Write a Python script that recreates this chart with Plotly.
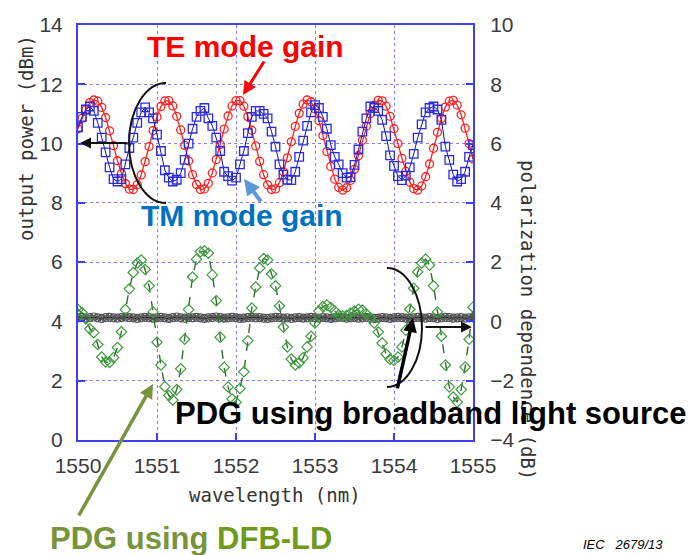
import plotly.graph_objects as go

# ---- measured data -------------------------------------------------------
wavelength_nm = [
    1550.00, 1550.05, 1550.10, 1550.15, 1550.20, 1550.25, 1550.30, 1550.35, 1550.40, 1550.45,
    1550.50, 1550.55, 1550.60, 1550.65, 1550.70, 1550.75, 1550.80, 1550.85, 1550.90, 1550.95,
    1551.00, 1551.05, 1551.10, 1551.15, 1551.20, 1551.25, 1551.30, 1551.35, 1551.40, 1551.45,
    1551.50, 1551.55, 1551.60, 1551.65, 1551.70, 1551.75, 1551.80, 1551.85, 1551.90, 1551.95,
    1552.00, 1552.05, 1552.10, 1552.15, 1552.20, 1552.25, 1552.30, 1552.35, 1552.40, 1552.45,
    1552.50, 1552.55, 1552.60, 1552.65, 1552.70, 1552.75, 1552.80, 1552.85, 1552.90, 1552.95,
    1553.00, 1553.05, 1553.10, 1553.15, 1553.20, 1553.25, 1553.30, 1553.35, 1553.40, 1553.45,
    1553.50, 1553.55, 1553.60, 1553.65, 1553.70, 1553.75, 1553.80, 1553.85, 1553.90, 1553.95,
    1554.00, 1554.05, 1554.10, 1554.15, 1554.20, 1554.25, 1554.30, 1554.35, 1554.40, 1554.45,
    1554.50, 1554.55, 1554.60, 1554.65, 1554.70, 1554.75, 1554.80, 1554.85, 1554.90, 1554.95,
    1555.00,
]

# TE mode output power (dBm, left axis)
te_gain_dbm = [
    10.50, 10.85, 11.15, 11.38, 11.47, 11.43, 11.22, 10.88, 10.43, 9.93,
    9.42, 8.99, 8.65, 8.46, 8.45, 8.61, 8.94, 9.39, 9.90, 10.44,
    10.90, 11.25, 11.44, 11.45, 11.27, 10.92, 10.46, 9.94, 9.41, 8.95,
    8.62, 8.45, 8.47, 8.66, 9.01, 9.46, 9.97, 10.49, 10.93, 11.27,
    11.45, 11.45, 11.26, 10.91, 10.45, 9.92, 9.40, 8.95, 8.61, 8.45,
    8.47, 8.68, 9.05, 9.52, 10.06, 10.58, 11.02, 11.33, 11.47, 11.41,
    11.17, 10.77, 10.27, 9.73, 9.23, 8.80, 8.52, 8.43, 8.51, 8.76,
    9.13, 9.59, 10.11, 10.59, 11.01, 11.30, 11.46, 11.44, 11.26, 10.92,
    10.50, 10.00, 9.50, 9.06, 8.70, 8.48, 8.43, 8.57, 8.88, 9.31,
    9.84, 10.38, 10.85, 11.23, 11.43, 11.46, 11.30, 10.97, 10.52, 10.00,
    9.48,
]

# TM mode output power (dBm, left axis)
tm_gain_dbm = [
    10.55, 10.90, 11.15, 11.25, 11.10, 10.70, 10.20, 9.70, 9.20, 8.80,
    8.72, 8.80, 9.30, 9.85, 10.20, 10.70, 11.05, 11.22, 11.05, 10.85,
    10.30, 9.75, 9.10, 8.85, 8.72, 8.78, 9.00, 9.45, 10.00, 10.50,
    10.90, 11.10, 11.20, 10.85, 10.60, 10.20, 9.75, 9.05, 8.90, 8.75,
    8.85, 9.30, 9.75, 10.35, 10.90, 11.10, 11.10, 11.00, 10.85, 10.40,
    9.90, 9.30, 8.95, 8.78, 8.77, 9.05, 9.55, 10.10, 10.60, 11.05,
    11.30, 11.20, 10.90, 10.50, 9.95, 9.55, 9.30, 9.00, 8.85, 8.87,
    9.28, 9.80, 10.40, 10.85, 11.25, 11.20, 11.10, 10.80, 10.25, 9.60,
    9.25, 8.90, 8.77, 8.92, 9.20, 9.65, 10.20, 10.65, 11.05, 11.20,
    11.25, 11.15, 10.80, 9.90, 9.45, 8.95, 8.72, 8.80, 9.05, 9.55,
    9.95,
]

# PDG measured with a DFB-LD (dB, right axis)
pdg_dfb_db = [
    0.40, 0.30, 0.08, -0.25, -0.38, -0.78, -1.20, -1.37, -1.38, -1.22,
    -0.88, -0.35, 0.40, 1.10, 1.65, 1.97, 2.07, 1.75, 1.20, 0.32,
    -0.70, -1.47, -2.20, -2.50, -2.65, -2.30, -1.60, -0.60, 0.40, 1.50,
    2.10, 2.35, 2.38, 2.30, 1.57, 0.70, -0.53, -1.55, -2.21, -2.62,
    -2.73, -2.26, -1.70, -0.65, 0.45, 1.16, 1.80, 2.12, 2.07, 1.60,
    1.20, 0.52, -0.19, -0.86, -1.27, -1.47, -1.40, -1.23, -0.86, -0.50,
    -0.05, 0.35, 0.50, 0.55, 0.47, 0.35, 0.22, 0.18, 0.20, 0.28,
    0.35, 0.41, 0.38, 0.25, 0.12, -0.05, -0.36, -0.73, -1.10, -1.28,
    -1.32, -1.20, -0.86, -0.30, 0.41, 1.12, 1.67, 1.97, 2.10, 1.90,
    1.20, 0.32, -0.50, -1.47, -2.21, -2.55, -2.72, -2.30, -1.54, -0.60,
    0.48,
]

# PDG measured with a broadband light source (dB, right axis)
pdg_broadband_db = [
    0.12, 0.14, 0.11, 0.13, 0.15, 0.12, 0.10, 0.13, 0.14, 0.12,
    0.11, 0.13, 0.15, 0.13, 0.12, 0.10, 0.12, 0.14, 0.13, 0.11,
    0.12, 0.14, 0.12, 0.10, 0.13, 0.15, 0.12, 0.11, 0.13, 0.12,
    0.14, 0.12, 0.10, 0.12, 0.13, 0.15, 0.13, 0.11, 0.12, 0.14,
    0.12, 0.10, 0.11, 0.13, 0.14, 0.12, 0.13, 0.11, 0.10, 0.12,
    0.14, 0.13, 0.11, 0.12, 0.10, 0.12, 0.13, 0.11, 0.12, 0.14,
    0.12, 0.11, 0.13, 0.12, 0.10, 0.12, 0.14, 0.13, 0.11, 0.12,
    0.13, 0.11, 0.12, 0.14, 0.12, 0.10, 0.11, 0.13, 0.12, 0.10,
    0.12, 0.14, 0.13, 0.11, 0.10, 0.12, 0.14, 0.12, 0.11, 0.13,
    0.12, 0.10, 0.12, 0.14, 0.13, 0.11, 0.12, 0.13, 0.11, 0.12,
    0.12,
]

x_ticks = [1550, 1551, 1552, 1553, 1554, 1555]
left_ticks = [0, 2, 4, 6, 8, 10, 12, 14]
right_ticks = [-4, -2, 0, 2, 4, 6, 8, 10]

# ---- styling -------------------------------------------------------------
FRAME = "#3f3ff2"
GRID = "#7f7fff"
TICK_FONT = dict(family="Liberation Sans, Arial, sans-serif", size=21, color="#3a3a3a")
TITLE_FONT = dict(family="DejaVu Sans Mono, Liberation Mono, monospace", size=19, color="#333333")
LABEL_FAMILY = "Liberation Sans, Arial, sans-serif"

fig = go.Figure()

fig.add_trace(go.Scatter(
    x=wavelength_nm, y=te_gain_dbm, mode="lines+markers", name="TE mode gain",
    line=dict(color="#ff2020", width=1.3),
    marker=dict(symbol="circle-open", size=8, color="#ff2020", line=dict(width=1.3)),
))
fig.add_trace(go.Scatter(
    x=wavelength_nm, y=tm_gain_dbm, mode="lines+markers", name="TM mode gain",
    line=dict(color="#1010a0", width=1),
    marker=dict(symbol="square-open", size=8.5, color="#2a2ae0", line=dict(width=1.3)),
))
fig.add_trace(go.Scatter(
    x=wavelength_nm, y=pdg_broadband_db, mode="lines+markers", name="PDG broadband",
    yaxis="y2",
    line=dict(color="#111111", width=1.5),
    marker=dict(symbol="circle-x-open", size=8, color="#555555", line=dict(width=1.2)),
))
fig.add_trace(go.Scatter(
    x=wavelength_nm, y=pdg_dfb_db, mode="lines+markers", name="PDG DFB-LD",
    yaxis="y2",
    line=dict(color="#2e6e2e", width=1.4, dash="dash"),
    marker=dict(symbol="diamond-open", size=8, color="#3f9a3f", line=dict(width=1.2)),
))

axis_common = dict(
    showline=True, linecolor=FRAME, linewidth=2,
    ticks="inside", ticklen=7, tickcolor=FRAME, tickwidth=1.5,
    tickfont=TICK_FONT, zeroline=False,
)

fig.update_layout(
    width=692, height=555,
    margin=dict(l=78, r=219, t=25, b=115),
    paper_bgcolor="white", plot_bgcolor="white",
    showlegend=False,
    xaxis=dict(range=[1550, 1555], tickvals=x_ticks, mirror=True,
               showgrid=True, gridcolor=GRID, griddash="dot", gridwidth=1,
               ticklabelstandoff=6, **axis_common),
    yaxis=dict(range=[0, 14], tickvals=left_ticks,
               showgrid=True, gridcolor=GRID, griddash="dot", gridwidth=1,
               ticklabelstandoff=9, **axis_common),
    yaxis2=dict(range=[-4, 10], tickvals=right_ticks, overlaying="y", side="right",
                showgrid=False, ticklabelstandoff=11, **axis_common),
)

# axis titles
fig.add_annotation(text="output power (dBm)", xref="paper", yref="paper",
                   x=-0.1316, y=0.7277, textangle=-90, showarrow=False,
                   xanchor="center", yanchor="middle", font=TITLE_FONT)
fig.add_annotation(text="polarization dependence (dB)", xref="paper", yref="paper",
                   x=1.1392, y=0.2892, textangle=90, showarrow=False,
                   xanchor="center", yanchor="middle", font=TITLE_FONT)
fig.add_annotation(text="wavelength (nm)", xref="paper", yref="paper",
                   x=0.498, y=-0.1325, showarrow=False,
                   xanchor="center", yanchor="middle", font=TITLE_FONT)

# callout labels
fig.add_annotation(text="<b>TE mode gain</b>", xref="paper", yref="paper",
                   x=0.4253, y=0.9470, showarrow=False, xanchor="center", yanchor="middle",
                   font=dict(family=LABEL_FAMILY, size=30, color="#ff0000"))
fig.add_annotation(text="<b>TM mode gain</b>", xref="paper", yref="paper",
                   x=0.4152, y=0.5398, showarrow=False, xanchor="center", yanchor="middle",
                   font=dict(family=LABEL_FAMILY, size=30, color="#0070c0"))
fig.add_annotation(text="<b>PDG using broadband light source</b>", xref="paper", yref="paper",
                   x=0.8937, y=0.0627, showarrow=False, xanchor="center", yanchor="middle",
                   font=dict(family=LABEL_FAMILY, size=31, color="#000000"))
fig.add_annotation(text="<b>PDG using <span style='color:#6f9a1e'>DFB-LD</span></b>",
                   xref="paper", yref="paper",
                   x=0.2861, y=-0.2362, showarrow=False, xanchor="center", yanchor="middle",
                   font=dict(family=LABEL_FAMILY, size=31, color="#77933c"))
fig.add_annotation(text="<i>IEC   2679/13</i>", xref="paper", yref="paper",
                   x=1.3797, y=-0.2530, showarrow=False, xanchor="center", yanchor="middle",
                   font=dict(family=LABEL_FAMILY, size=13, color="#000000"))

# pointer arrows (head position in data units, tail offset in pixels)
def pointer(x, y, ax, ay, color, width, size=1.0):
    fig.add_annotation(x=x, y=y, xref="x", yref="y", ax=ax, ay=ay, text="",
                       showarrow=True, arrowhead=2, arrowsize=size,
                       arrowwidth=width, arrowcolor=color)

pointer(1552.089, 11.64, 22, -35, "#ff0000", 3, 0.9)
pointer(1552.101, 8.806, 18, 24, "#5b9bd5", 4, 0.8)
pointer(1550.949, 1.889, -75, 133, "#77933c", 3.5, 0.8)
pointer(1550.025, 10.02, 49, 0, "#111111", 2, 1.1)
pointer(1554.987, 3.812, -48, 0, "#111111", 2, 1.1)
pointer(1554.241, 4.116, -16, 72, "#000000", 3.5, 0.8)

# brackets grouping the curves with their axes
fig.add_shape(type="path", xref="x", yref="y",
              path="M 1551.114,12.044 C 1550.856,12.044 1550.646,11.138 1550.646,10.02 "
                   "C 1550.646,8.902 1550.856,7.996 1551.114,7.996",
              line=dict(color="#111111", width=2))
fig.add_shape(type="path", xref="x", yref="y",
              path="M 1553.911,5.803 C 1554.156,5.803 1554.354,4.905 1554.354,3.796 "
                   "C 1554.354,2.687 1554.156,1.789 1553.911,1.789",
              line=dict(color="#111111", width=2))

fig.write_html("out.html")
